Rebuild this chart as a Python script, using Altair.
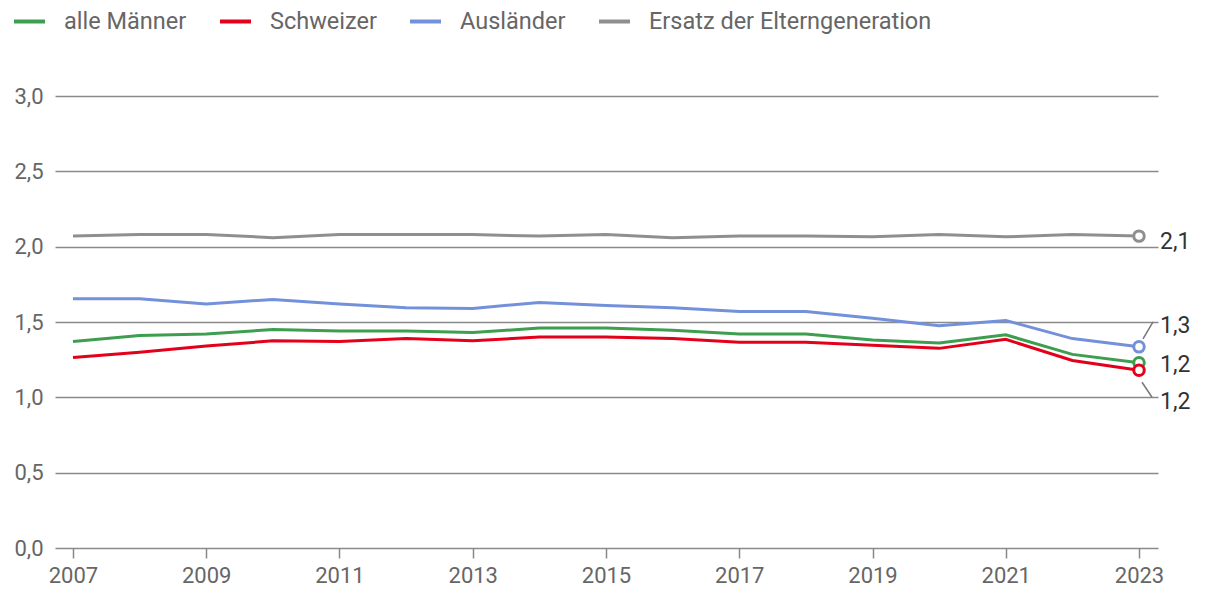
import altair as alt
import pandas as pd

years = list(range(2007, 2024))
series_names = ["alle Männer", "Schweizer", "Ausländer", "Ersatz der Elterngeneration"]
colors = ["#3d9e4f", "#e3001b", "#7390da", "#8f8f8f"]

alle = [1.37, 1.41, 1.42, 1.45, 1.44, 1.44, 1.43, 1.46, 1.46, 1.445, 1.42, 1.42, 1.38, 1.36, 1.415, 1.285, 1.23]
schweizer = [1.265, 1.30, 1.34, 1.375, 1.37, 1.39, 1.375, 1.40, 1.40, 1.39, 1.365, 1.365, 1.345, 1.325, 1.385, 1.245, 1.18]
auslaender = [1.655, 1.655, 1.62, 1.65, 1.62, 1.595, 1.59, 1.63, 1.61, 1.595, 1.57, 1.57, 1.525, 1.475, 1.51, 1.39, 1.335]
ersatz = [2.07, 2.08, 2.08, 2.06, 2.08, 2.08, 2.08, 2.07, 2.08, 2.06, 2.07, 2.07, 2.065, 2.08, 2.065, 2.08, 2.07]

x_ticks = [2007, 2009, 2011, 2013, 2015, 2017, 2019, 2021, 2023]
y_ticks = [0, 0.5, 1.0, 1.5, 2.0, 2.5, 3.0]

rows = []
for name, vals in zip(series_names, [alle, schweizer, auslaender, ersatz]):
    for y, v in zip(years, vals):
        rows.append({"year": y, "value": v, "series": name})
df = pd.DataFrame(rows)

FONT = "Roboto"

x_enc = alt.X("year:Q", scale=alt.Scale(domain=[2006.73, 2023.285], nice=False, zero=False),
              axis=alt.Axis(values=x_ticks, format="d", grid=False, domain=False,
                            tickColor="#888", tickWidth=1.5, tickSize=10,
                            labelFontSize=22, labelColor="#666", labelFont=FONT,
                            labelPadding=7, title=None))
y_enc = alt.Y("value:Q", scale=alt.Scale(domain=[0, 3.0], nice=False),
              axis=alt.Axis(values=y_ticks, labelExpr="replace(format(datum.value, '.1f'), '.', ',')",
                            grid=True, gridColor="#8a8a8a", gridWidth=1.5, domain=False, ticks=False,
                            labelFontSize=22, labelColor="#666", labelFont=FONT,
                            labelPadding=12, title=None))
color_enc = alt.Color("series:N", scale=alt.Scale(domain=series_names, range=colors),
                      sort=series_names,
                      legend=alt.Legend(title=None, orient="none", legendX=-43, legendY=-92,
                                        direction="horizontal", symbolType="stroke",
                                        symbolSize=960, symbolStrokeWidth=4,
                                        labelFontSize=23.5, labelColor="#666", labelFont=FONT,
                                        labelLimit=0, labelOffset=17, columnPadding=25))

base = alt.Chart(df)

lines = base.mark_line(strokeWidth=3).encode(
    x=x_enc, y=y_enc, color=color_enc,
    order=alt.Order("year:Q"),
    detail="series:N",
)

last = df[df["year"] == 2023]
points = alt.Chart(last).mark_point(filled=True, fill="white", size=110, strokeWidth=3, opacity=1).encode(
    x="year:Q", y="value:Q",
    stroke=alt.Stroke("series:N", scale=alt.Scale(domain=series_names, range=colors), legend=None),
)

offsets = {
    "Ersatz der Elterngeneration": 6,
    "Ausländer": -21,
    "alle Männer": 2,
    "Schweizer": 32,
}
label_layers = []
for name, dy in offsets.items():
    sub = alt.Chart(last).transform_filter(alt.datum.series == name).transform_calculate(
        lab="replace(format(datum.value, '.1f'), '.', ',')"
    ).mark_text(align="left", baseline="middle", dx=21, dy=dy, fontSize=23,
                font=FONT, color="#333").encode(x="year:Q", y="value:Q", text="lab:N")
    label_layers.append(sub)

conn_blue = alt.Chart(last).transform_filter(alt.datum.series == "Ausländer").mark_rule(
    color="#777", strokeWidth=1.5, xOffset=4, x2Offset=14, yOffset=-8, y2Offset=-25
).encode(x="year:Q", x2="year", y="value:Q", y2="value")
conn_red = alt.Chart(last).transform_filter(alt.datum.series == "Schweizer").mark_rule(
    color="#777", strokeWidth=1.5, xOffset=3, x2Offset=13, yOffset=12, y2Offset=27
).encode(x="year:Q", x2="year", y="value:Q", y2="value")

chart = alt.layer(lines, conn_blue, conn_red, points, *label_layers).properties(
    width=1103, height=452,
    autosize=alt.AutoSizeParams(type="none"),
    padding={"left": 47, "top": 88, "right": 45, "bottom": 50},
).configure(font=FONT).configure_view(stroke=None)

chart.save("out.html", embed_options={"renderer": "svg", "actions": False})
